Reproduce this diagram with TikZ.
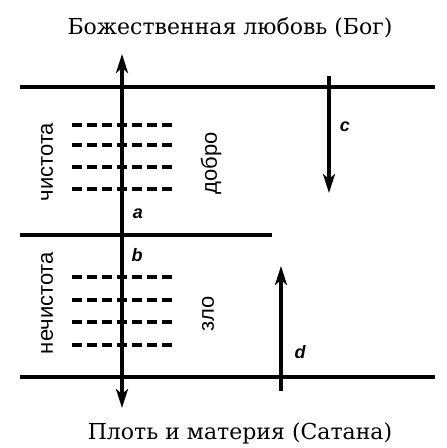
\documentclass[tikz,border=0pt]{standalone}
\usepackage{fontspec}
\setmainfont{DejaVu Serif}
\setsansfont{Liberation Sans}
\usetikzlibrary{arrows.meta}
\begin{document}
\begin{tikzpicture}[x=1pt,y=1pt,
  rule/.style={line width=3.6pt},
  arr/.style={line width=3.2pt,-{Stealth[length=19pt,width=12pt,inset=5pt]}},
  dsh/.style={line width=3.6pt,dash pattern=on 10pt off 5pt},
  side/.style={font=\sffamily\fontsize{22}{22}\selectfont,rotate=90,inner sep=0pt},
  tag/.style={font=\sffamily\bfseries\itshape\fontsize{18}{18}\selectfont,inner sep=0pt},
  title/.style={font=\fontsize{22}{22}\selectfont,inner sep=0pt}]
\useasboundingbox[fill=white] (0,0) rectangle (447,448);
% titles
\node[title] (top) at (230,420) {Божественная любовь (Бог)};
\node[title] (bot) at (240,15) {Плоть и материя (Сатана)};
% horizontal rules
\coordinate (t1) at (20,361); \coordinate (t2) at (435,361);
\coordinate (m1) at (20,213); \coordinate (m2) at (272,213);
\coordinate (b1) at (20,71); \coordinate (b2) at (435,71);
\draw[rule] (t1) -- (t2);
\draw[rule] (m1) -- (m2);
\draw[rule] (b1) -- (b2);
% main vertical axis
\coordinate (vtop) at (122,394); \coordinate (vmid) at (122,213); \coordinate (vbot) at (122,40);
\draw[arr] (vmid) -- (vtop);
\draw[arr] (vmid) -- (vbot);
% arrows c and d
\coordinate (c1) at (329,372); \coordinate (c2) at (329,255);
\draw[arr] (c1) -- (c2);
\coordinate (d1) at (281,57); \coordinate (d2) at (281,182);
\draw[arr] (d1) -- (d2);
% dashes
\foreach \yy in {125,145,167,189,277,300,322,345}{
  \draw[dsh] (72,448-\yy) -- (176,448-\yy);
}
% labels
\node[side] (chist) at (47,286) {чистота};
\node[side] (dobro) at (211,285) {добро};
\node[side] (nechist) at (47,145) {нечистота};
\node[side] (zlo) at (208,134) {зло};
\node[tag] (a) at (138,234) {a};
\node[tag] (b) at (137,193) {b};
\node[tag] (c) at (345,321) {c};
\node[tag] (d) at (300,96) {d};
\end{tikzpicture}
\end{document}
